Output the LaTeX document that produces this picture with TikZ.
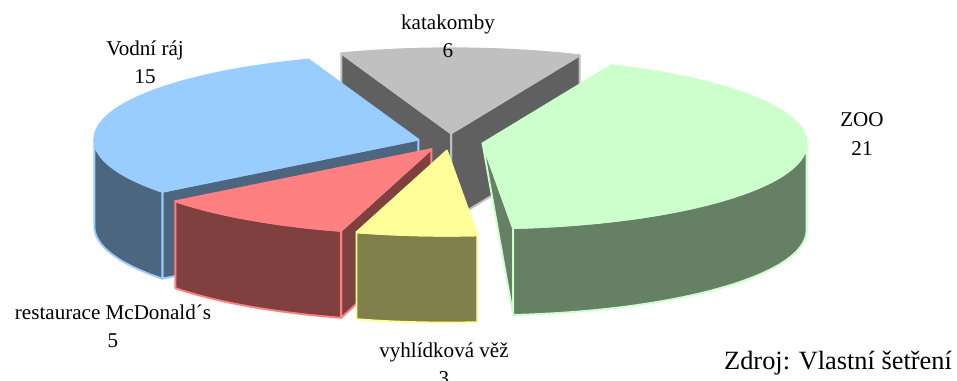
\documentclass[tikz,border=0pt]{standalone}
\usepackage{fontspec}
\setmainfont{Liberation Serif}
\usetikzlibrary{calc}

\definecolor{vodcol}{HTML}{99CCFF}
\definecolor{katcol}{HTML}{C0C0C0}
\definecolor{zoocol}{HTML}{CCFFCC}
\definecolor{mcdcol}{HTML}{FF8080}
\definecolor{vezcol}{HTML}{FFFF99}

\tikzset{pie/.style={line width=1.1pt, line join=round},
	lbl/.style={align=center, font=\fontsize{12}{16}\selectfont}}

% apex of an exploded slice: name, start, end
\newcommand{\sliceapex}[3]{%
	\pgfmathsetmacro{\slmid}{(#2+#3)/2}
	\coordinate (#1) at ($(450,239)+(\slmid:33 and 8.66)$);}
% top face: apex, start, end, colour
\newcommand{\slicetop}[4]{%
	\filldraw[pie, draw=#4, fill=#4] (#1) -- ($(#1)+(#2:324 and 85)$)
	arc[start angle=#2, end angle=#3, x radius=324, y radius=85] -- cycle;}
% curved side: apex, from, to, colour
\newcommand{\sliceside}[4]{%
	\filldraw[pie, draw=#4, fill=#4!50!black] ($(#1)+(#2:324 and 85)$)
	arc[start angle=#2, end angle=#3, x radius=324, y radius=85] -- ++(0,-87)
	arc[start angle=#3, end angle=#2, x radius=324, y radius=85] -- cycle;}
% cut face: apex, angle, colour
\newcommand{\slicecut}[3]{%
	\filldraw[pie, draw=#3, fill=#3!50!black] (#1) -- ($(#1)+(#2:324 and 85)$)
	-- ++(0,-87) -- ($(#1)+(0,-87)$) -- cycle;}

\begin{document}
\begin{tikzpicture}[x=0.02cm, y=0.02cm]
	\useasboundingbox (0,0) rectangle (957,381);
	%% katakomby
	\sliceapex{kat}{66.6}{109.8}
	\slicecut{kat}{66.6}{katcol}
	\slicecut{kat}{109.8}{katcol}
	\slicetop{kat}{66.6}{109.8}{katcol}
	%% Vodni raj
	\sliceapex{vod}{109.8}{217.8}
	\slicecut{vod}{217.8}{vodcol}
	\sliceside{vod}{180}{217.8}{vodcol}
	\slicetop{vod}{109.8}{217.8}{vodcol}
	%% ZOO
	\sliceapex{zoo}{-84.6}{66.6}
	\filldraw[pie, draw=zoocol, fill=zoocol!50!black] (zoo) -- ($(zoo)+(-84.6:324 and 85)$) -- ++(0,-87) -- cycle;
	\sliceside{zoo}{-84.6}{0}{zoocol}
	\slicetop{zoo}{-84.6}{66.6}{zoocol}
	%% McDonald's
	\sliceapex{mcd}{217.8}{253.8}
	\slicecut{mcd}{253.8}{mcdcol}
	\sliceside{mcd}{217.8}{253.8}{mcdcol}
	\slicetop{mcd}{217.8}{253.8}{mcdcol}
	%% vyhlidkova vez
	\sliceapex{vez}{253.8}{275.4}
	\sliceside{vez}{253.8}{275.4}{vezcol}
	\slicetop{vez}{253.8}{275.4}{vezcol}
	%% Labels
	\node [lbl] (katLabel) at (448,345) {katakomby\\6};
	\node [lbl] (vodLabel) at (145,319) {Vodní ráj\\15};
	\node [lbl] (zooLabel) at (862,247) {ZOO\\21};
	\node [lbl] (mcdLabel) at (113,55) {restaurace McDonald´s\\5};
	\node [lbl] (vezLabel) at (444,17) {vyhlídková věž\\3};
	\node [font=\fontsize{15}{18}\selectfont] (source) at (838,18) {Zdroj: Vlastní šetření};
\end{tikzpicture}
\end{document}
